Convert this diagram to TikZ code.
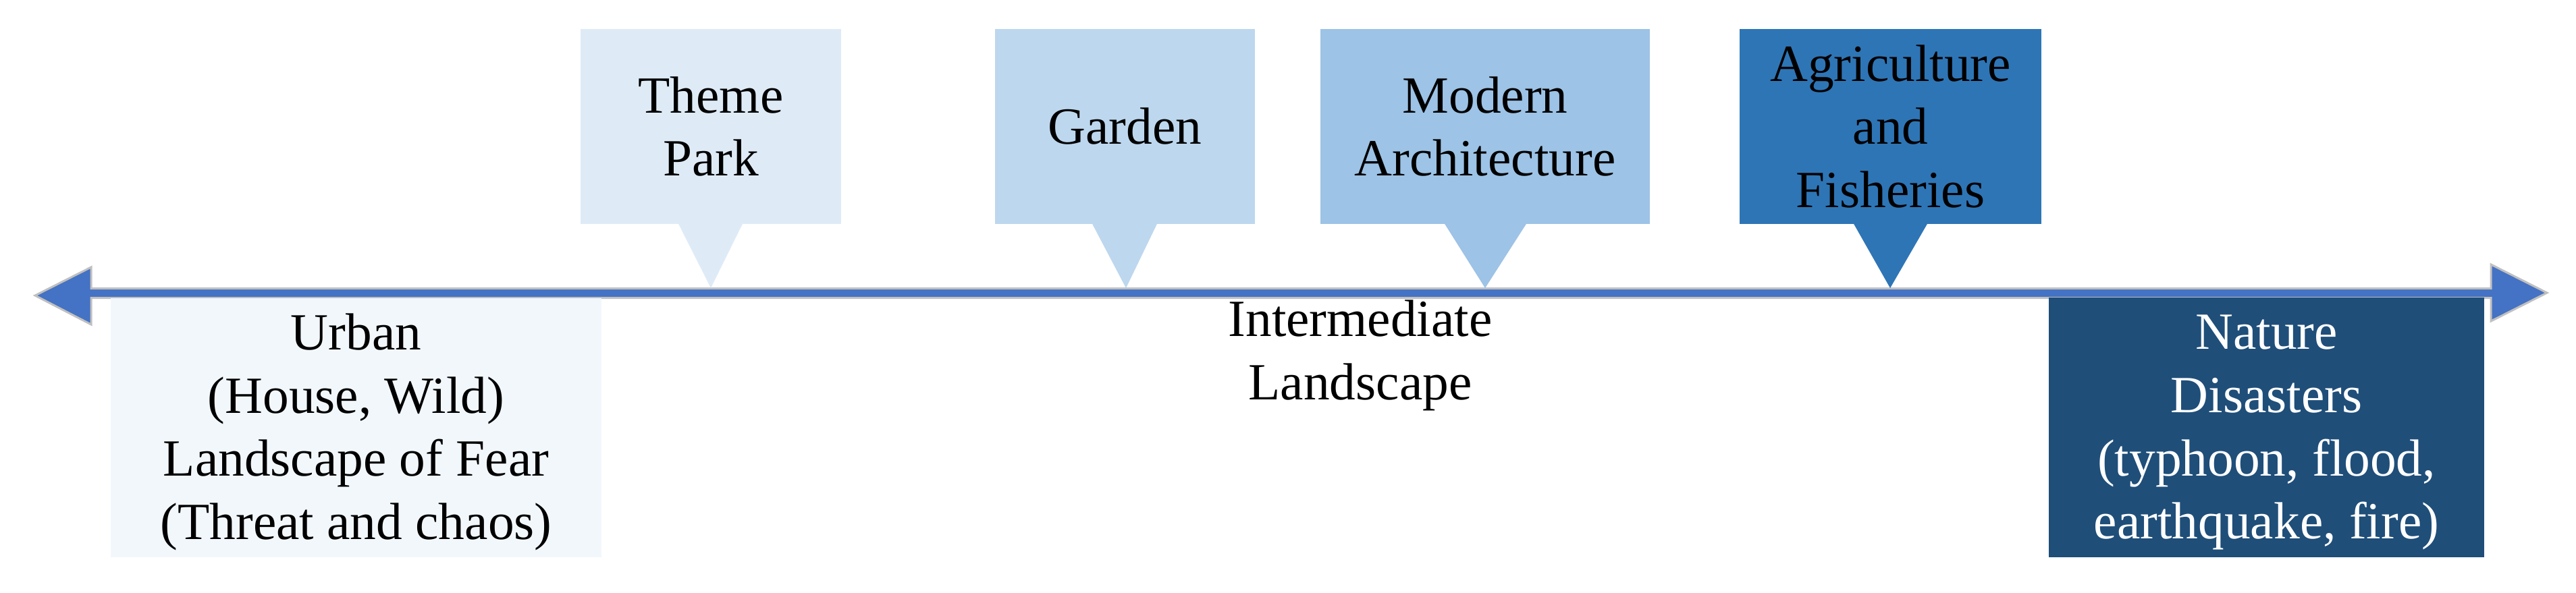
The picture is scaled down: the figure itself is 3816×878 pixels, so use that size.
\documentclass[tikz,border=0pt]{standalone}
\usepackage{fontspec}
\setmainfont{Liberation Serif}
\usetikzlibrary{calc}
\definecolor{axisblue}{HTML}{4472C4}
\definecolor{axisgrey}{HTML}{C0C0C0}
\definecolor{cUrban}{HTML}{F2F7FC}
\definecolor{cTheme}{HTML}{DEEBF7}
\definecolor{cGarden}{HTML}{BDD7EE}
\definecolor{cModern}{HTML}{9DC3E6}
\definecolor{cAgri}{HTML}{2E75B6}
\definecolor{cNature}{HTML}{1F4E79}
\tikzset{
  lbl/.style={font=\fontsize{22}{26.6}\selectfont, align=center, inner sep=0pt},
  callbox/.style={lbl, draw=none, minimum height=2.89cm},
  lowbox/.style={lbl, draw=none, minimum height=3.84cm},
}
\begin{document}
\begin{tikzpicture}[x=0.01cm,y=-0.01cm]
\useasboundingbox (0,0) rectangle (3816,878);
% axis double arrow
\coordinate (axisL) at (52,438);
\coordinate (axisR) at (3773,434);
\filldraw[fill=axisblue, draw=axisgrey, line width=0.03cm, line join=miter]
  (axisL) -- (135,396) -- (135,427.5) -- (3690,427.5) -- (3690,392) -- (axisR)
  -- (3690,476) -- (3690,441.5) -- (135,441.5) -- (135,481) -- cycle;
% lower boxes
\node[lowbox, fill=cUrban, minimum width=7.27cm] (urban) at (527.5,634)
  {\rule{0pt}{0.66cm}Urban\\(House, Wild)\\Landscape of Fear\\(Threat and chaos)};
\node[lowbox, fill=cNature, text=white, minimum width=6.45cm, minimum height=3.85cm] (nature) at (3357.5,633.5)
  {\rule{0pt}{0.66cm}Nature\\Disasters\\(typhoon, flood,\\earthquake, fire)};
\node[lbl] (inter) at (2015,527) {Intermediate\\Landscape};
% callouts
\coordinate (tpTip) at (1053,427);
\coordinate (gaTip) at (1668,427);
\coordinate (moTip) at (2200,427);
\coordinate (agTip) at (2800,427);
\node[callbox, fill=cTheme, minimum width=3.86cm] (theme) at (1053,187.5) {Theme\\Park};
\node[callbox, fill=cGarden, minimum width=3.85cm] (garden) at (1666.5,187.5) {Garden};
\node[callbox, fill=cModern, minimum width=4.88cm] (modern) at (2200,187.5) {Modern\\Architecture};
\node[callbox, fill=cAgri, minimum width=4.47cm] (agri) at (2800.5,187.5) {Agriculture\\and\\Fisheries};
\fill[cTheme] ($(theme.south)+(-48,-1)$) -- (tpTip) -- ($(theme.south)+(47,-1)$) -- cycle;
\fill[cGarden] ($(garden.south)+(-48.5,-1)$) -- (gaTip) -- ($(garden.south)+(47.5,-1)$) -- cycle;
\fill[cModern] ($(modern.south)+(-60,-1)$) -- (moTip) -- ($(modern.south)+(61,-1)$) -- cycle;
\fill[cAgri] ($(agri.south)+(-54.5,-1)$) -- (agTip) -- ($(agri.south)+(54.5,-1)$) -- cycle;
\end{tikzpicture}
\end{document}
